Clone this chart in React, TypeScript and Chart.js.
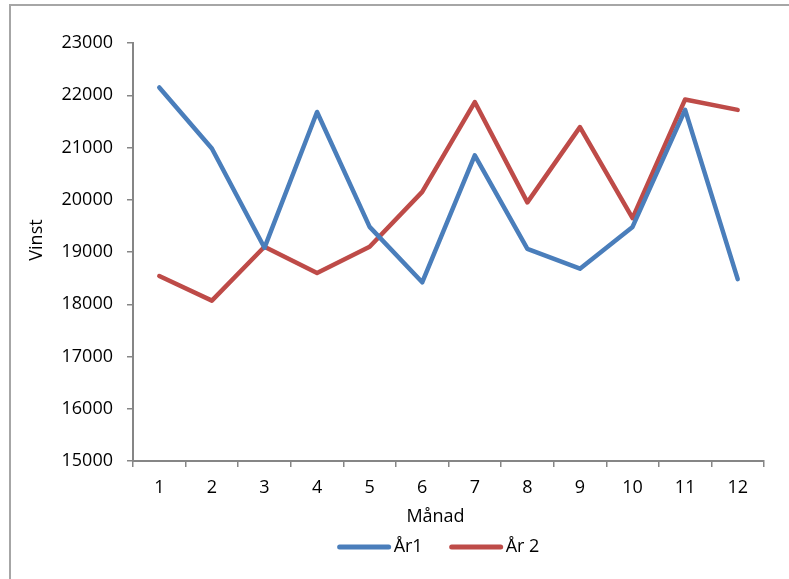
import React, { useEffect, useRef } from "react";
import { Chart, registerables } from "chart.js";

Chart.register(...registerables);

const months = ["1", "2", "3", "4", "5", "6", "7", "8", "9", "10", "11", "12"];
const year1 = [22150, 20980, 19080, 21680, 19480, 18420, 20850, 19060, 18680, 19480, 21720, 18480];
const year2 = [18540, 18070, 19100, 18600, 19100, 20150, 21870, 19950, 21390, 19650, 21920, 21720];
const seriesNames = ["År1", "År 2"];
const seriesColors = ["#4A7EBB", "#BE4B48"];
const xTitle = "Månad";
const yTitle = "Vinst";

const FONT = "'Open Sans', 'Noto Sans', sans-serif";
const AXIS = "#868686";

const decorPlugin = {
  id: "decor",
  beforeDraw(chart: any) {
    const ctx = chart.ctx;
    ctx.save();
    ctx.strokeStyle = "#a6a6a6";
    ctx.lineWidth = 2;
    ctx.beginPath();
    ctx.moveTo(10, chart.height + 5);
    ctx.lineTo(10, 5);
    ctx.lineTo(chart.width + 5, 5);
    ctx.stroke();
    ctx.restore();
  },
  afterDraw(chart: any) {
    const ctx = chart.ctx;
    const area = chart.chartArea;
    ctx.save();
    ctx.fillStyle = "#000";
    ctx.font = `18px ${FONT}`;
    ctx.textBaseline = "middle";
    // axis titles
    ctx.textAlign = "center";
    const cx = (area.left + area.right) / 2 - 13;
    ctx.fillText(xTitle, cx, area.bottom + 56);
    ctx.save();
    ctx.translate(37, (area.top + area.bottom) / 2 - 12);
    ctx.rotate(-Math.PI / 2);
    ctx.fillText(yTitle, 0, 0);
    ctx.restore();
    // legend
    const lineLen = 53;
    const gapText = 3;
    const gapItem = 27;
    const items = chart.data.datasets.map((d: any) => ({
      label: d.label,
      color: d.borderColor,
      w: ctx.measureText(d.label).width,
    }));
    let total = 0;
    items.forEach((it: any, i: number) => {
      total += lineLen + gapText + it.w + (i < items.length - 1 ? gapItem : 0);
    });
    let x = (area.left + area.right) / 2 - 10 - total / 2;
    const ly = area.bottom + 86;
    ctx.textAlign = "left";
    items.forEach((it: any) => {
      ctx.strokeStyle = it.color;
      ctx.lineWidth = 5;
      ctx.lineCap = "round";
      ctx.beginPath();
      ctx.moveTo(x + 2, ly);
      ctx.lineTo(x + lineLen - 2, ly);
      ctx.stroke();
      x += lineLen + gapText;
      ctx.fillText(it.label, x, ly);
      x += it.w + gapItem;
    });
    ctx.restore();
  },
};

export default function App() {
  const ref = useRef<HTMLCanvasElement | null>(null);
  useEffect(() => {
    if (!ref.current) return;
    const chart = new Chart(ref.current, {
      type: "line",
      data: {
        labels: months,
        datasets: [year1, year2].map((vals, i) => ({
          label: seriesNames[i],
          data: vals,
          borderColor: seriesColors[i],
          backgroundColor: seriesColors[i],
          borderWidth: 4.5,
          pointRadius: 0,
          pointHoverRadius: 0,
          tension: 0,
          borderCapStyle: "round",
          borderJoinStyle: "round",
          fill: false,
        })),
      },
      options: {
        responsive: false,
        animation: false,
        layout: { padding: { left: 0, right: 25, top: 43, bottom: 78 } },
        plugins: {
          legend: { display: false },
          tooltip: { enabled: false },
          title: { display: false },
        },
        scales: {
          x: {
            type: "category",
            offset: true,
            grid: {
              offset: true,
              drawOnChartArea: false,
              drawTicks: true,
              tickLength: 6,
              color: AXIS,
              lineWidth: 1.5,
            },
            border: { display: true, color: AXIS, width: 2 },
            ticks: {
              color: "#000",
              font: { family: FONT, size: 18 },
              padding: 10,
              maxRotation: 0,
            },
            afterFit(scale: any) {
              scale.height = 40;
            },
          },
          y: {
            min: 15000,
            max: 23000,
            grid: {
              drawOnChartArea: false,
              drawTicks: true,
              tickLength: 6,
              color: AXIS,
              lineWidth: 1.5,
            },
            border: { display: true, color: AXIS, width: 2 },
            ticks: {
              stepSize: 1000,
              color: "#000",
              font: { family: FONT, size: 18 },
              padding: 14,
              callback: (v: any) => String(v),
            },
            afterFit(scale: any) {
              scale.width = 133;
            },
          },
        },
      },
      plugins: [decorPlugin],
    } as any);
    return () => chart.destroy();
  }, []);
  return (
    <canvas
      ref={ref}
      width={789}
      height={579}
      style={{ position: "fixed", left: 0, top: 0, display: "block", width: 789, height: 579 }}
    />
  );
}
